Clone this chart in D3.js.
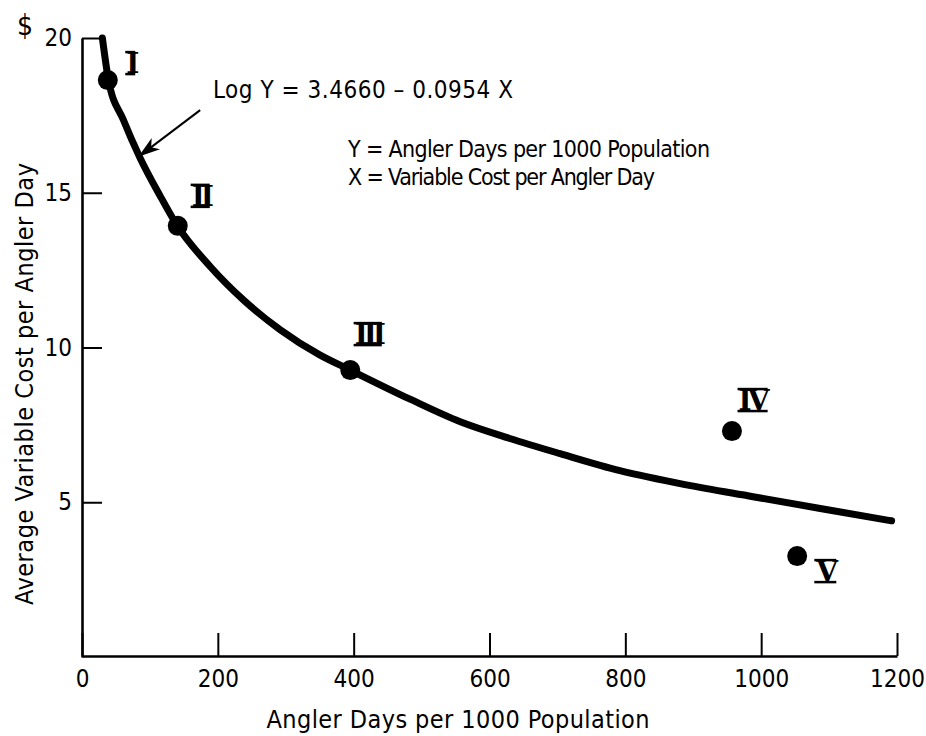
<!DOCTYPE html>
<html>
<head>
<meta charset="utf-8">
<script src="https://cdn.jsdelivr.net/npm/d3@7"></script>
<style>
  body { margin: 0; background: #fff; }
  svg text { font-family: "DejaVu Sans Condensed", "Liberation Sans Narrow", "DejaVu Sans", sans-serif; fill: #000; }
  .numeral { font-family: "DejaVu Serif", "Liberation Serif", serif; font-weight: bold; }
</style>
</head>
<body>
<script>
// Fitted demand curve (angler days, cost in $)
const curveDays = [30, 39, 61, 85, 115, 139, 189, 238, 292, 350, 395, 483, 557, 630, 704, 792, 890, 988, 1087, 1192];
const curveCost = [20, 18.64, 17.35, 16.15, 14.9, 13.98, 12.61, 11.53, 10.57, 9.76, 9.27, 8.33, 7.60, 7.06, 6.57, 6.02, 5.56, 5.18, 4.80, 4.40];

// Observed zones
const zones = ["I", "II", "III", "IV", "V"];
const zoneDays = [38, 141, 395, 957, 1053];
const zoneCost = [18.64, 13.93, 9.27, 7.30, 3.26];

// Axis ticks
const xTicks = [0, 200, 400, 600, 800, 1000, 1200];
const yTicks = [5, 10, 15, 20];

// Set up chart dimensions
const margin = { top: 38, right: 29, bottom: 79, left: 82 };
const width = 926 - margin.left - margin.right;
const height = 736 - margin.top - margin.bottom;

const svg = d3.select("body")
    .append("svg")
    .attr("width", 926)
    .attr("height", 736)
    .append("g")
    .attr("transform", `translate(${margin.left},${margin.top})`);

const xScale = d3.scaleLinear().domain([0, 1200]).range([0, width]);
const yScale = d3.scaleLinear().domain([0, 20]).range([height, 0]);

// Axes: ticks point inward
const xAxis = svg.append("g")
    .attr("transform", `translate(0,${height - 1})`)
    .call(d3.axisBottom(xScale).tickValues(xTicks).tickFormat(d3.format("d"))
        .tickSize(-23).tickSizeOuter(0).tickPadding(14));

const yAxis = svg.append("g")
    .call(d3.axisLeft(yScale).tickValues(yTicks).tickFormat(d3.format("d"))
        .tickSize(-20).tickSizeOuter(0).tickPadding(10));

[xAxis, yAxis].forEach(g => {
    g.select(".domain").attr("stroke-width", 2.6);
    g.selectAll(".tick line").attr("stroke-width", 2);
    g.selectAll(".tick text").style("font-size", "24px").attr("fill", "#000");
});

// dollar sign above the 20
svg.append("text")
    .attr("x", -57)
    .attr("y", -3)
    .attr("text-anchor", "middle")
    .style("font-size", "28px")
    .text("$");

// Curve
const curvePts = curveDays.map((d, i) => [d, curveCost[i]]);
const line = d3.line()
    .x(d => xScale(d[0]))
    .y(d => yScale(d[1]))
    .curve(d3.curveMonotoneX);

svg.append("path")
    .datum(curvePts)
    .attr("fill", "none")
    .attr("stroke", "#000")
    .attr("stroke-width", 7)
    .attr("stroke-linecap", "round")
    .attr("d", line);

// Points
svg.selectAll(".dot")
    .data(zones)
    .enter()
    .append("circle")
    .attr("class", "dot")
    .attr("r", 10)
    .attr("cx", (d, i) => xScale(zoneDays[i]))
    .attr("cy", (d, i) => yScale(zoneCost[i]))
    .attr("fill", "#000");

// Roman numeral labels with bars top and bottom
const labelOffsets = [[23, -17], [23, -30], [18, -36], [20, -31], [28, 15]];
const capH = 20;
const numerals = svg.selectAll(".numeral-g")
    .data(zones)
    .enter()
    .append("g")
    .attr("class", "numeral-g")
    .attr("transform", (d, i) =>
        `translate(${xScale(zoneDays[i]) + labelOffsets[i][0]},${yScale(zoneCost[i]) + labelOffsets[i][1]})`);

numerals.append("text")
    .attr("class", "numeral")
    .attr("y", capH / 2)
    .attr("text-anchor", "middle")
    .style("font-size", "28px")
    .style("letter-spacing", "-4px")
    .text(d => d);

numerals.each(function() {
    const g = d3.select(this);
    const bb = g.select("text").node().getBBox();
    [-capH / 2 - 1, capH / 2 + 1].forEach(yy => {
        g.append("line")
            .attr("x1", bb.x - 1)
            .attr("x2", bb.x + bb.width - 3)
            .attr("y1", yy)
            .attr("y2", yy)
            .attr("stroke", "#000")
            .attr("stroke-width", 2.5);
    });
});

// Arrow pointing at the curve
const defs = d3.select("svg").append("defs");
defs.append("marker")
    .attr("id", "head")
    .attr("markerUnits", "userSpaceOnUse")
    .attr("markerWidth", 24)
    .attr("markerHeight", 14)
    .attr("refX", 22)
    .attr("refY", 7)
    .attr("orient", "auto")
    .append("path")
    .attr("d", "M0,0 L22,7 L0,14 L6,7 Z")
    .attr("fill", "#000");

svg.append("line")
    .attr("x1", xScale(174))
    .attr("y1", yScale(17.67))
    .attr("x2", xScale(83))
    .attr("y2", yScale(16.16))
    .attr("stroke", "#000")
    .attr("stroke-width", 2)
    .attr("marker-end", "url(#head)");

// Equation and key
svg.append("text")
    .attr("x", 131)
    .attr("y", 60)
    .style("font-size", "24px")
    .attr("textLength", 300)
    .text("Log Y = 3.4660 \u2013 0.0954 X");

svg.append("text")
    .attr("x", 266)
    .attr("y", 119)
    .style("font-size", "23px")
    .attr("textLength", 362)
    .text("Y = Angler Days per 1000 Population");

svg.append("text")
    .attr("x", 266)
    .attr("y", 147)
    .style("font-size", "23px")
    .attr("textLength", 307)
    .text("X = Variable Cost per Angler Day");

// Axis titles
svg.append("text")
    .attr("x", 458 - margin.left)
    .attr("y", 728 - margin.top)
    .attr("text-anchor", "middle")
    .style("font-size", "25px")
    .attr("textLength", 383)
    .text("Angler Days per 1000 Population");

svg.append("text")
    .attr("transform", `translate(${33 - margin.left},${384 - margin.top}) rotate(-90)`)
    .attr("text-anchor", "middle")
    .style("font-size", "25px")
    .attr("textLength", 442)
    .text("Average Variable Cost per Angler Day");
</script>
</body>
</html>
